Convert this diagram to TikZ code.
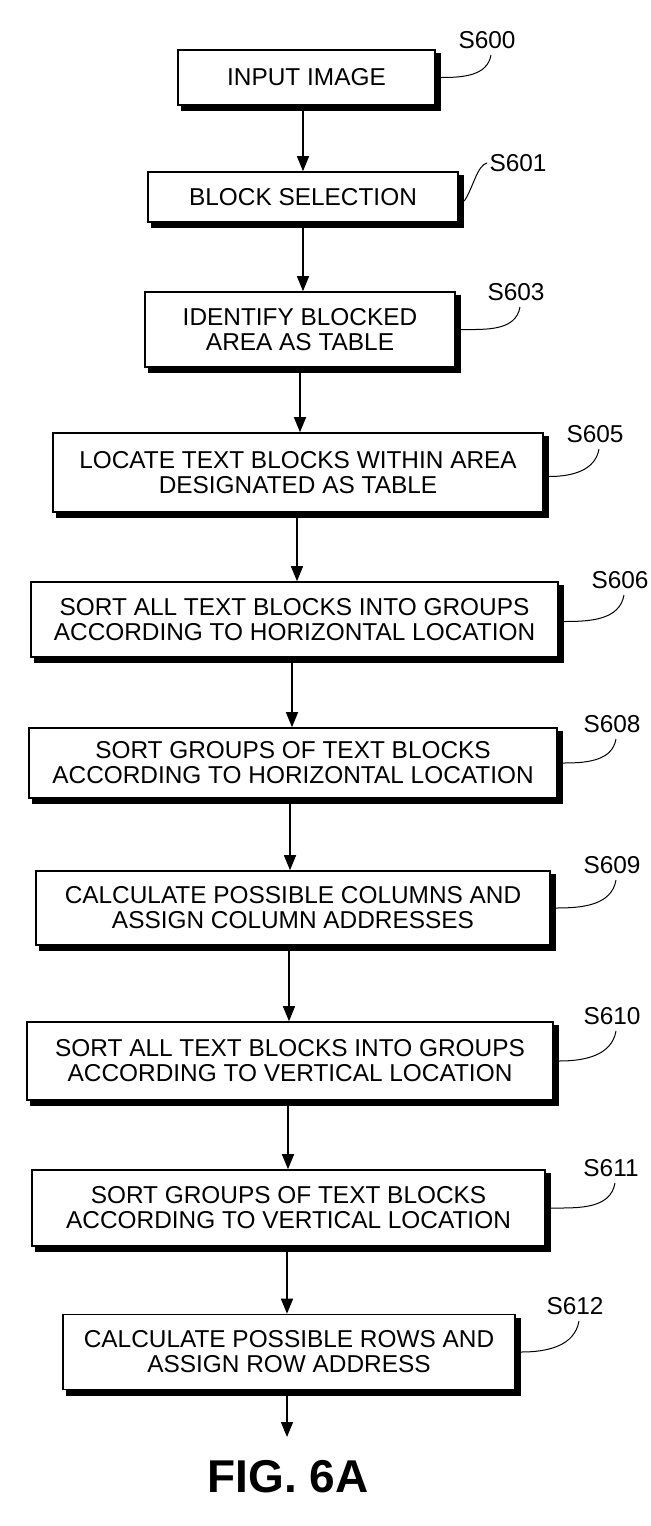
\documentclass[tikz,border=0pt]{standalone}
\usepackage{fontspec}
\setmainfont{Liberation Sans}
\usetikzlibrary{arrows.meta}
\tikzset{
  stepbox/.style={draw, line width=0.8pt, align=center, inner sep=0pt, fill=white,
    font=\fontsize{12.2}{12.5}\selectfont},
  flow/.style={line width=0.7pt, -{Triangle[length=7.5pt,width=6pt]}},
  leader/.style={line width=0.5pt},
  steplabel/.style={inner sep=0pt, font=\fontsize{12.2}{12.5}\selectfont},
  figlabel/.style={inner sep=0pt, font=\bfseries\fontsize{23}{26}\selectfont}
}
\newcommand{\boxshadow}[1]{%
  \fill ([yshift=-2pt]#1.north east) rectangle ([xshift=2.7pt,yshift=-2.7pt]#1.south east);
  \fill ([xshift=2pt]#1.south west) rectangle ([xshift=2.7pt,yshift=-2.7pt]#1.south east);
}
\begin{document}
\begin{tikzpicture}[x=0.5pt,y=-0.5pt]
\useasboundingbox (0,0) rectangle (651,1526);
% boxes
\node[stepbox, minimum width=128.5pt, minimum height=27.5pt] (b1) at (306.5,77.5) {INPUT IMAGE};
\node[stepbox, minimum width=155pt, minimum height=25pt] (b2) at (303,197) {BLOCK SELECTION};
\node[stepbox, minimum width=155pt, minimum height=37.5pt] (b3) at (300,329.5) {IDENTIFY BLOCKED\\AREA AS TABLE};
\node[stepbox, minimum width=245pt, minimum height=39.5pt] (b4) at (298,472.5) {LOCATE TEXT BLOCKS WITHIN AREA\\DESIGNATED AS TABLE};
\node[stepbox, minimum width=263.5pt, minimum height=37.5pt] (b5) at (294.5,619.5) {SORT ALL TEXT BLOCKS INTO GROUPS\\ACCORDING TO HORIZONTAL LOCATION};
\node[stepbox, minimum width=264pt, minimum height=35pt] (b6) at (293,763) {SORT GROUPS OF TEXT BLOCKS\\ACCORDING TO HORIZONTAL LOCATION};
\node[stepbox, minimum width=257pt, minimum height=37pt] (b7) at (293,908) {CALCULATE POSSIBLE COLUMNS AND\\ASSIGN COLUMN ADDRESSES};
\node[stepbox, minimum width=263pt, minimum height=39pt] (b8) at (290,1061) {SORT ALL TEXT BLOCKS INTO GROUPS\\ACCORDING TO VERTICAL LOCATION};
\node[stepbox, minimum width=256.5pt, minimum height=38pt] (b9) at (288.5,1208) {SORT GROUPS OF TEXT BLOCKS\\ACCORDING TO VERTICAL LOCATION};
\node[stepbox, minimum width=226pt, minimum height=37.5pt] (b10) at (289,1352) {CALCULATE POSSIBLE ROWS AND\\ASSIGN ROW ADDRESS};
% shadows
\boxshadow{b1}\boxshadow{b2}\boxshadow{b3}\boxshadow{b4}\boxshadow{b5}
\boxshadow{b6}\boxshadow{b7}\boxshadow{b8}\boxshadow{b9}\boxshadow{b10}
% step labels
\node[steplabel] (l600) at (487,40) {S600};
\node[steplabel] (l601) at (518,163) {S601};
\node[steplabel] (l603) at (516,292) {S603};
\node[steplabel] (l605) at (595,434) {S605};
\node[steplabel] (l606) at (620,580) {S606};
\node[steplabel] (l608) at (612,724) {S608};
\node[steplabel] (l609) at (612,865) {S609};
\node[steplabel] (l610) at (612,1016) {S610};
\node[steplabel] (l611) at (611,1168) {S611};
\node[steplabel] (l612) at (575,1306) {S612};
% leaders
\draw[leader] ([xshift=2.7pt]b1.east) to[out=0,in=-100] ([xshift=2pt,yshift=-3pt]l600.south);
\draw[leader] ([xshift=2.7pt,yshift=-2pt]b2.east) .. controls ([xshift=7pt,yshift=4pt]b2.east) and ([xshift=-6pt,yshift=-1pt]l601.west) .. ([xshift=-1pt]l601.west);
\draw[leader] ([xshift=2.7pt]b3.east) to[out=0,in=-100] ([xshift=2pt,yshift=-3pt]l603.south);
\draw[leader] ([xshift=2.7pt,yshift=-2pt]b4.east) to[out=0,in=-100] ([xshift=2pt,yshift=-3pt]l605.south);
\draw[leader] ([xshift=2.7pt,yshift=-1pt]b5.east) to[out=0,in=-100] ([xshift=2pt,yshift=-3pt]l606.south);
\draw[leader] ([xshift=2.7pt]b6.east) to[out=0,in=-100] ([xshift=2pt,yshift=-3pt]l608.south);
\draw[leader] ([xshift=2.7pt]b7.east) to[out=0,in=-100] ([xshift=2pt,yshift=-3pt]l609.south);
\draw[leader] ([xshift=2.7pt]b8.east) to[out=0,in=-100] ([xshift=2pt,yshift=-3pt]l610.south);
\draw[leader] ([xshift=2.7pt]b9.east) to[out=0,in=-100] ([xshift=2pt,yshift=-3pt]l611.south);
\draw[leader] ([xshift=2.7pt]b10.east) to[out=0,in=-100] ([xshift=2pt,yshift=-3pt]l612.south);
% arrow columns
\coordinate (a1) at (303,0);
\coordinate (a2) at (303,0);
\coordinate (a3) at (300,0);
\coordinate (a4) at (297,0);
\coordinate (a5) at (292,0);
\coordinate (a6) at (290,0);
\coordinate (a7) at (289,0);
\coordinate (a8) at (288,0);
\coordinate (a9) at (287,0);
\coordinate (fin) at (287,1437);
\draw[flow] (b1.south -| a1) -- (b2.north -| a1);
\draw[flow] (b2.south -| a2) -- (b3.north -| a2);
\draw[flow] (b3.south -| a3) -- (b4.north -| a3);
\draw[flow] (b4.south -| a4) -- (b5.north -| a4);
\draw[flow] (b5.south -| a5) -- (b6.north -| a5);
\draw[flow] (b6.south -| a6) -- (b7.north -| a6);
\draw[flow] (b7.south -| a7) -- (b8.north -| a7);
\draw[flow] (b8.south -| a8) -- (b9.north -| a8);
\draw[flow] (b9.south -| a9) -- (b10.north -| a9);
\draw[flow] (b10.south -| fin) -- (fin);
% caption
\node[figlabel] (fig) at (288,1477) {FIG. 6A};
\end{tikzpicture}
\end{document}
